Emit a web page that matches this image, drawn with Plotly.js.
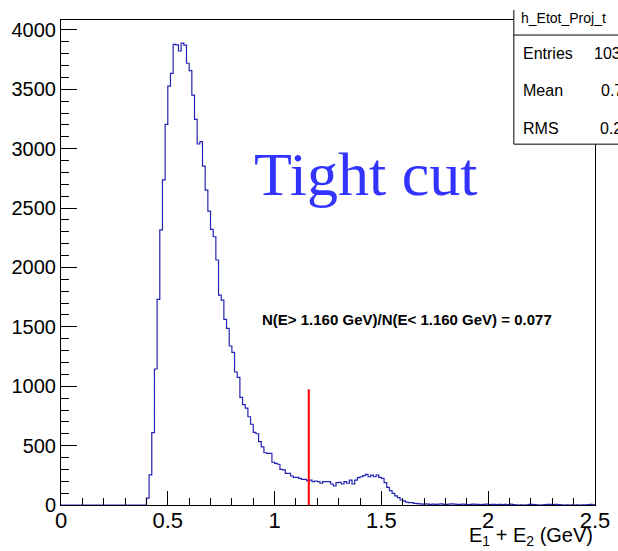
<!DOCTYPE html>
<html>
<head>
<meta charset="utf-8">
<script src="https://cdn.plot.ly/plotly-3.0.1.min.js"></script>
<style>
  html, body { margin: 0; padding: 0; background: #ffffff; }
  #chart { width: 618px; height: 551px; }
</style>
</head>
<body>
<div id="chart"></div>
<script>
// Histogram binning (200 bins from 0 to 2.5 GeV)
const xMin = 0;
const xMax = 2.5;
const binWidth = 0.0125;

// Bin contents
const counts = [
  0, 0, 0, 0, 0, 0, 0, 0, 0, 0,
  0, 0, 0, 0, 0, 0, 0, 0, 0, 0,
  0, 0, 0, 0, 0, 0, 0, 0, 0, 0,
  0, 0,
  58, 253, 609, 1145, 1732, 2316, 2737, 3205, 3528, 3635,
  3879, 3875, 3823, 3890, 3873, 3720, 3657, 3452, 3248, 3040,
  3060, 2854, 2652, 2475, 2321, 2259, 2063, 1768, 1726, 1563,
  1488, 1339, 1285, 1120, 1075, 907, 845, 815, 743, 680,
  612, 600, 533, 490, 440, 435, 435, 360, 350, 343,
  300, 295, 267, 267, 244, 233, 233, 225, 216, 216,
  205, 210, 196, 202, 196, 183, 196, 196, 196, 177,
  160, 188, 191, 177, 196, 183, 210, 177, 210, 230,
  238, 247, 258, 238, 252, 238, 252, 233, 225, 188,
  149, 121, 98, 76, 62, 42, 34, 25, 20, 20,
  14, 12, 10, 8, 10, 7, 6, 8,
  6, 7, 10, 6, 5, 7, 9, 7, 5, 6,
  7, 5, 4, 6, 8, 5, 6, 4, 5, 7,
  4, 5, 6, 3, 5, 4, 6, 3, 7, 4,
  1, 0, 1, 0, 2, 5, 6, 4, 1, 0,
  1, 3, 5, 6, 4, 5, 3, 1, 0, 1,
  0, 1, 0, 1, 0, 2, 1, 4, 5, 2
];

// Cut marker
const cutE = 1.16;
const cutLineTop = 975;

// Texts
const histName = "h_Etot_Proj_t";
const statLabels = ["Entries", "Mean", "RMS"];
const statValues = ["103128", "0.7456", "0.2632"];
const ratioText = "N(E> 1.160 GeV)/N(E< 1.160 GeV) = 0.077";
const cutTitle = "Tight cut";
const xTitle = "E<sub>1</sub> + E<sub>2</sub> (GeV)";
const yTicks = [0, 500, 1000, 1500, 2000, 2500, 3000, 3500, 4000];
const xTicks = [0, 0.5, 1, 1.5, 2, 2.5];

// Step outline built from the bin edges
const edges = counts.map((_, i) => xMin + i * binWidth);
edges.push(xMax);
const stepY = counts.slice();
stepY.push(counts[counts.length - 1]);

const histTrace = {
  type: 'scatter',
  mode: 'lines',
  x: edges,
  y: stepY,
  line: { shape: 'hv', color: 'rgb(36,36,180)', width: 1.2 },
  hoverinfo: 'skip',
  showlegend: false
};

const cutTrace = {
  type: 'scatter',
  mode: 'lines',
  x: [cutE, cutE],
  y: [0, cutLineTop],
  line: { color: '#ff0000', width: 2 },
  hoverinfo: 'skip',
  showlegend: false
};

const axisFont = { family: 'Liberation Sans, Arial, sans-serif', color: '#000' };

const statRowsY = [0.932, 0.856, 0.779];
const annotations = [
  {
    xref: 'x', yref: 'y', x: 1.425, y: 2790,
    text: cutTitle, showarrow: false, xanchor: 'center', yanchor: 'middle',
    font: { family: 'Liberation Serif, DejaVu Serif, serif', size: 62, color: '#3333ff' }
  },
  {
    xref: 'x', yref: 'y', x: 1.62, y: 1558,
    text: '<b>' + ratioText + '</b>', showarrow: false, xanchor: 'center', yanchor: 'middle',
    font: { family: 'Liberation Sans, Arial, sans-serif', size: 15, color: '#000' }
  },
  {
    xref: 'paper', yref: 'paper', x: 1.0, y: -0.036,
    text: xTitle, showarrow: false, xanchor: 'right', yanchor: 'top',
    font: { family: 'Liberation Sans, Arial, sans-serif', size: 20, color: '#000' }
  },
  {
    xref: 'paper', yref: 'paper', x: 0.8577, y: 1.004,
    text: histName, showarrow: false, xanchor: 'left', yanchor: 'middle',
    font: { family: 'Liberation Sans, Arial, sans-serif', size: 14, color: '#000' }
  }
];
statLabels.forEach((lab, i) => {
  annotations.push({
    xref: 'paper', yref: 'paper', x: 0.861, y: statRowsY[i] - 0.002,
    text: lab, showarrow: false, xanchor: 'left', yanchor: 'middle',
    font: { family: 'Liberation Sans, Arial, sans-serif', size: 16, color: '#000' }
  });
});
const valueX = [0.995, 1.008, 1.006];
statValues.forEach((v, i) => {
  annotations.push({
    xref: 'paper', yref: 'paper', x: valueX[i], y: statRowsY[i] - 0.002,
    text: v, showarrow: false, xanchor: 'left', yanchor: 'middle',
    font: { family: 'Liberation Sans, Arial, sans-serif', size: 16, color: '#000' }
  });
});

const layout = {
  width: 618,
  height: 551,
  margin: { l: 61, r: 23, t: 20, b: 46, pad: 0 },
  paper_bgcolor: '#ffffff',
  plot_bgcolor: '#ffffff',
  showlegend: false,
  xaxis: {
    range: [xMin, xMax],
    tickvals: xTicks,
    ticktext: xTicks.map(String),
    ticks: 'inside', ticklen: 14, tickwidth: 1, tickcolor: '#000',
    ticklabelstandoff: -4,
    minor: { ticks: 'inside', ticklen: 7, dtick: 0.1, tick0: 0, tickcolor: '#000', tickwidth: 1 },
    showgrid: false, zeroline: false,
    showline: true, linecolor: '#000', linewidth: 1, mirror: true,
    tickfont: Object.assign({ size: 22 }, axisFont),
    fixedrange: true
  },
  yaxis: {
    range: [0, 4084],
    tickvals: yTicks,
    ticktext: yTicks.map(String),
    ticks: 'inside', ticklen: 16, tickwidth: 1, tickcolor: '#000',
    minor: { ticks: 'inside', ticklen: 8, dtick: 100, tick0: 0, tickcolor: '#000', tickwidth: 1 },
    showgrid: false, zeroline: false,
    showline: true, linecolor: '#000', linewidth: 1, mirror: true,
    tickfont: Object.assign({ size: 20 }, axisFont),
    fixedrange: true
  },
  shapes: [
    {
      type: 'rect', xref: 'paper', yref: 'paper', layer: 'above',
      x0: 0.848, x1: 1.06, y0: 0.744, y1: 1.0206,
      fillcolor: '#ffffff', line: { width: 0 }
    },
    {
      type: 'line', xref: 'paper', yref: 'paper', layer: 'above',
      x0: 0.848, x1: 0.848, y0: 0.744, y1: 1.0206,
      line: { color: '#000', width: 1 }
    },
    {
      type: 'line', xref: 'paper', yref: 'paper', layer: 'above',
      x0: 0.848, x1: 1.06, y0: 0.744, y1: 0.744,
      line: { color: '#000', width: 1 }
    },
    {
      type: 'line', xref: 'paper', yref: 'paper', layer: 'above',
      x0: 0.848, x1: 1.06, y0: 0.969, y1: 0.969,
      line: { color: '#000', width: 1 }
    }
  ],
  annotations: annotations
};

Plotly.newPlot('chart', [histTrace, cutTrace], layout, { staticPlot: true, displayModeBar: false });
</script>
</body>
</html>
